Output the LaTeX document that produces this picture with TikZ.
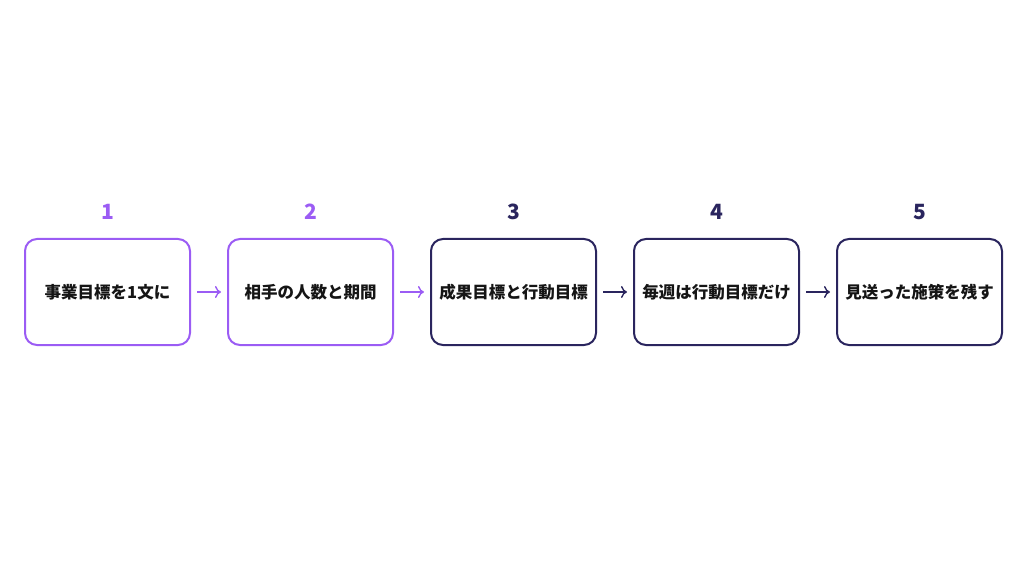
\documentclass[tikz,border=0pt]{standalone}
\usepackage{fontspec}
\setmainfont{Noto Sans CJK JP}
\usetikzlibrary{positioning,arrows.meta}
\definecolor{stepviolet}{HTML}{9B5CF4}
\definecolor{stepnavy}{HTML}{2A255E}
\definecolor{steptext}{HTML}{151515}

\begin{document}
\begin{tikzpicture}[x=1pt,y=1pt,
  stepbox/.style={draw, line width=2pt, rounded corners=12pt, minimum width=165pt,
    minimum height=106pt, inner sep=0pt, text=steptext, font=\fontsize{16.5}{18}\selectfont\bfseries},
  stepnum/.style={inner sep=0pt, font=\fontsize{21}{22}\selectfont\bfseries},
  steparrow/.style={line width=1.4pt, -{To[length=6pt,width=12pt]}, shorten <=6pt, shorten >=6pt}]
  % page
  \useasboundingbox (0,0) rectangle (1030,579);
  % boxes
  \node[stepbox, draw=stepviolet] (B1) at (107.5,287) {事業目標を1文に};
  \node[stepbox, draw=stepviolet, right=36pt of B1] (B2) {相手の人数と期間};
  \node[stepbox, draw=stepnavy, right=36pt of B2] (B3) {成果目標と行動目標};
  \node[stepbox, draw=stepnavy, right=36pt of B3] (B4) {毎週は行動目標だけ};
  \node[stepbox, draw=stepnavy, right=36pt of B4] (B5) {見送った施策を残す};
  % numbers
  \node[stepnum, text=stepviolet, above=18pt of B1.north, anchor=south] (N1) {1};
  \node[stepnum, text=stepviolet, above=18pt of B2.north, anchor=south] (N2) {2};
  \node[stepnum, text=stepnavy, above=18pt of B3.north, anchor=south] (N3) {3};
  \node[stepnum, text=stepnavy, above=18pt of B4.north, anchor=south] (N4) {4};
  \node[stepnum, text=stepnavy, above=18pt of B5.north, anchor=south] (N5) {5};
  % arrows
  \draw[steparrow, stepviolet] (B1) -- (B2);
  \draw[steparrow, stepviolet] (B2) -- (B3);
  \draw[steparrow, stepnavy] (B3) -- (B4);
  \draw[steparrow, stepnavy] (B4) -- (B5);
\end{tikzpicture}
\end{document}
